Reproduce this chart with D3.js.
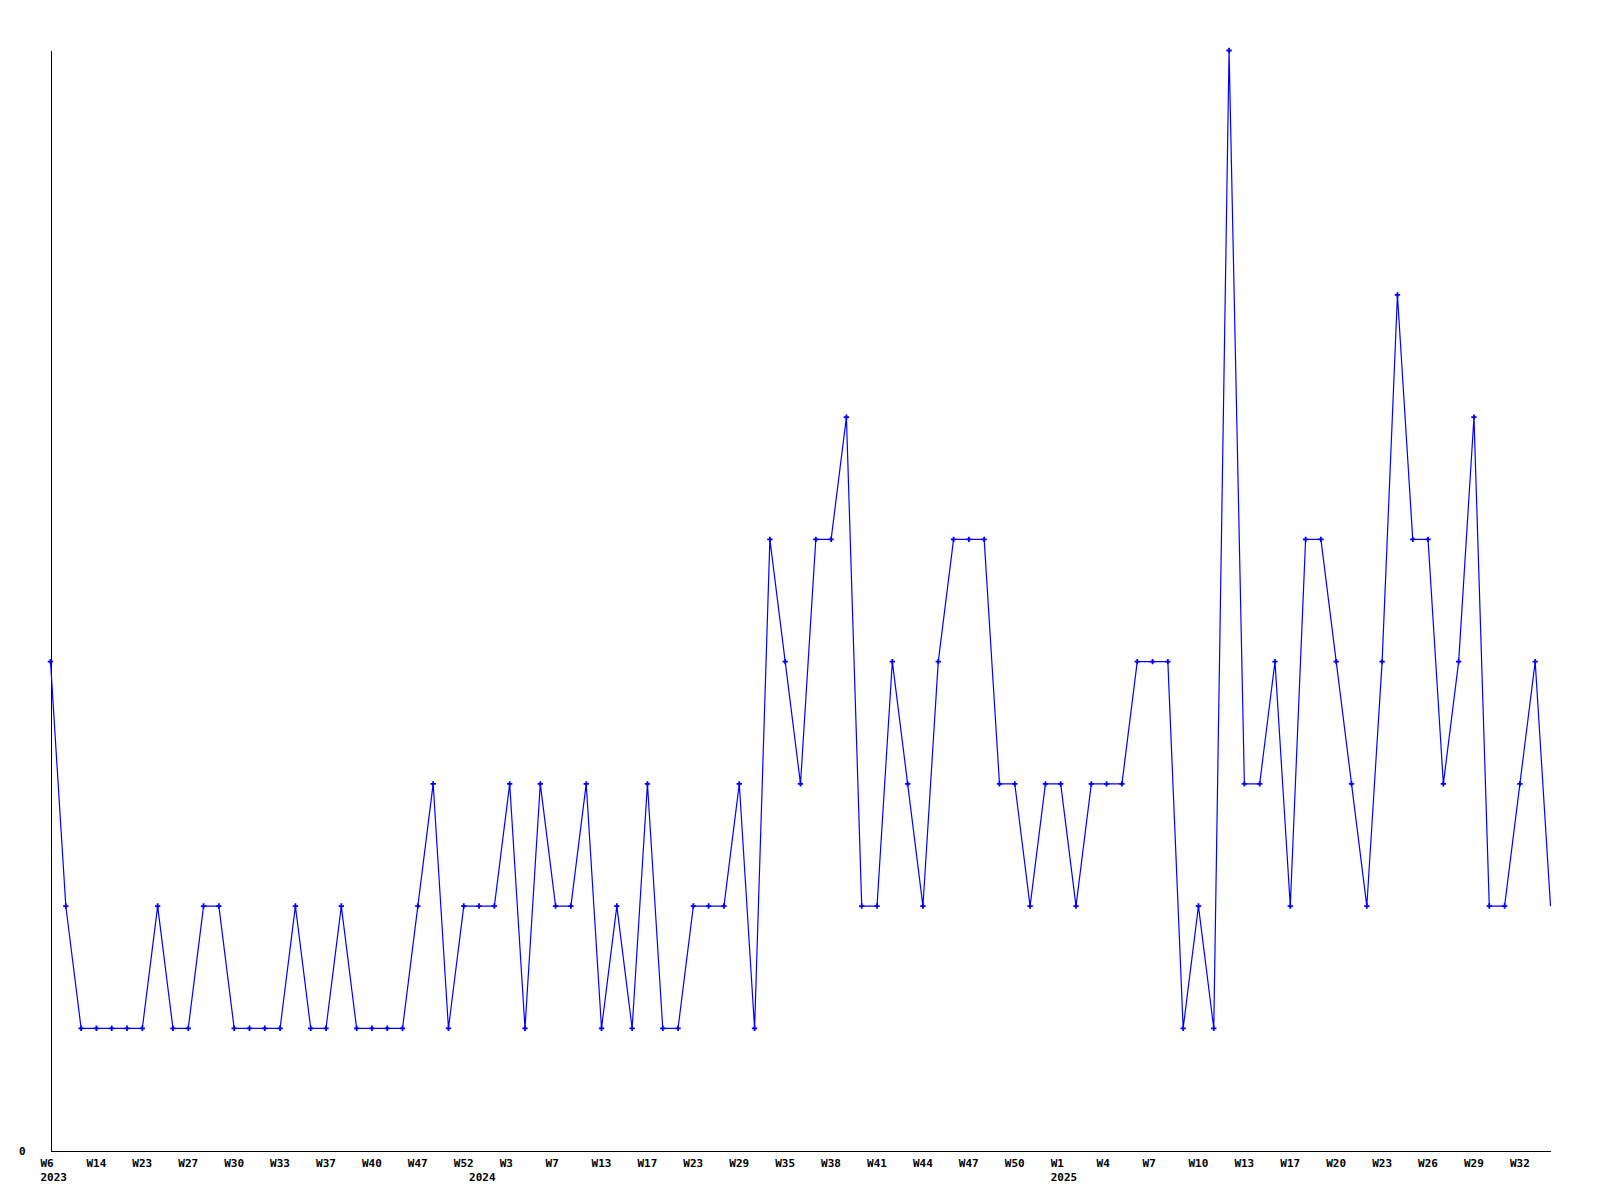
<!DOCTYPE html>
<html>
<head>
<meta charset="utf-8">
<script src="https://cdn.jsdelivr.net/npm/d3@7"></script>
<style>
  html, body { margin: 0; padding: 0; background: #fff; }
  svg { display: block; }
  text { font-family: "DejaVu Sans Mono", monospace; font-weight: bold; font-size: 11px; fill: #000; }
</style>
</head>
<body>
<svg id="chart" width="1600" height="1200"></svg>
<script>
// ---- data ----
const weeks2023 = ["W6","W8","W11","W14","W17","W20","W23","W24","W26","W27","W28","W29","W30","W31","W32","W33","W34","W36","W37","W38","W39","W40","W42","W45","W47","W49","W51","W52"];
const weeks2024 = ["W1","W2","W3","W5","W6","W7","W9","W11","W13","W14","W16","W17","W19","W21","W23","W25","W27","W29","W31","W33","W35","W36","W37","W38","W39","W40","W41","W42","W43","W44","W45","W46","W47","W48","W49","W50","W51","W52"];
const weeks2025 = ["W1","W2","W3","W4","W5","W6","W7","W8","W9","W10","W11","W12","W13","W14","W16","W17","W18","W19","W20","W21","W22","W23","W24","W25","W26","W27","W28","W29","W30","W31","W32","W33","W34"];
const yearNames = [2023, 2024, 2025];
const values = [
  4,2,1,1,1,1,1,2,1,1,2,2,1,1,1,1,2,1,1,2,1,1,1,1,2,3,1,2,
  2,2,3,1,3,2,2,3,1,2,1,3,1,1,2,2,2,3,1,5,4,3,5,5,6,2,2,4,3,2,4,5,5,5,3,3,2,3,
  3,2,3,3,3,4,4,4,1,2,1,9,3,3,4,2,5,5,4,3,2,4,7,5,5,3,4,6,2,2,3,4,2
];
const yMax = 9;
const yTicks = [0];

// ---- derived category table ----
const points = [];
[weeks2023, weeks2024, weeks2025].forEach((wk, yi) => {
  wk.forEach((w, j) => points.push({ week: w, year: yearNames[yi], first: j === 0 }));
});
points.forEach((p, i) => { p.value = values[i]; p.i = i; });

// ---- layout ----
const svg = d3.select("#chart");
const plotLeft = 50, plotRight = 1550, plotTop = 50, plotBottom = 1150;

const x = d3.scalePoint().domain(points.map(p => p.i)).range([plotLeft, plotRight]);
const y = d3.scaleLinear().domain([0, yMax]).range([plotBottom, plotTop]);

const fontStyle = sel => sel
  .style("font-family", '"DejaVu Sans Mono", monospace')
  .style("font-weight", "bold").style("font-size", "11px").attr("fill", "#000");

// x axis (week labels every 3rd point)
const xAxis = d3.axisBottom(x)
  .tickValues(points.filter(p => p.i % 3 === 0).map(p => p.i))
  .tickFormat(i => points[i].week)
  .tickSize(0).tickSizeOuter(0).tickPadding(0);
const gx = svg.append("g").attr("transform", `translate(0.5,${plotBottom + 0.5})`).call(xAxis);
gx.select(".domain").attr("stroke", "#000").attr("stroke-width", 1).attr("shape-rendering", "crispEdges");
gx.selectAll(".tick text")
  .attr("text-anchor", "start").attr("dx", -10.5).attr("dy", 0).attr("y", 16)
  .call(fontStyle);

// year labels under the first point of each year
const yearAxis = d3.axisBottom(x)
  .tickValues(points.filter(p => p.first).map(p => p.i))
  .tickFormat(i => String(points[i].year))
  .tickSize(0).tickSizeOuter(0).tickPadding(0);
const gyr = svg.append("g").attr("transform", `translate(0.5,${plotBottom + 0.5})`).call(yearAxis);
gyr.select(".domain").remove();
gyr.selectAll(".tick text")
  .attr("text-anchor", "start").attr("dx", -10.5).attr("dy", 0).attr("y", 30)
  .call(fontStyle);

// y axis
const yAxis = d3.axisLeft(y).tickValues(yTicks).tickFormat(d3.format("d"))
  .tickSize(0).tickSizeOuter(0).tickPadding(25);
const gy = svg.append("g").attr("transform", `translate(${plotLeft + 0.5},0.5)`).call(yAxis);
gy.select(".domain").attr("stroke", "#000").attr("stroke-width", 1).attr("shape-rendering", "crispEdges");
gy.selectAll(".tick text").call(fontStyle);

// line
const line = d3.line().x(p => x(p.i) + 0.5).y(p => y(p.value) + 0.5);
svg.append("path").datum(points)
  .attr("d", line).attr("fill", "none").attr("stroke", "#0000ff").attr("stroke-width", 1.2);

// markers (the final point has none in the reference)
svg.append("g").selectAll("path").data(points.slice(0, -1)).join("path")
  .attr("transform", p => `translate(${x(p.i) + 0.5},${y(p.value) + 0.5})`)
  .attr("d", d3.symbol(d3.symbolCross, 16))
  .attr("fill", "#0000ff");
</script>
</body>
</html>
